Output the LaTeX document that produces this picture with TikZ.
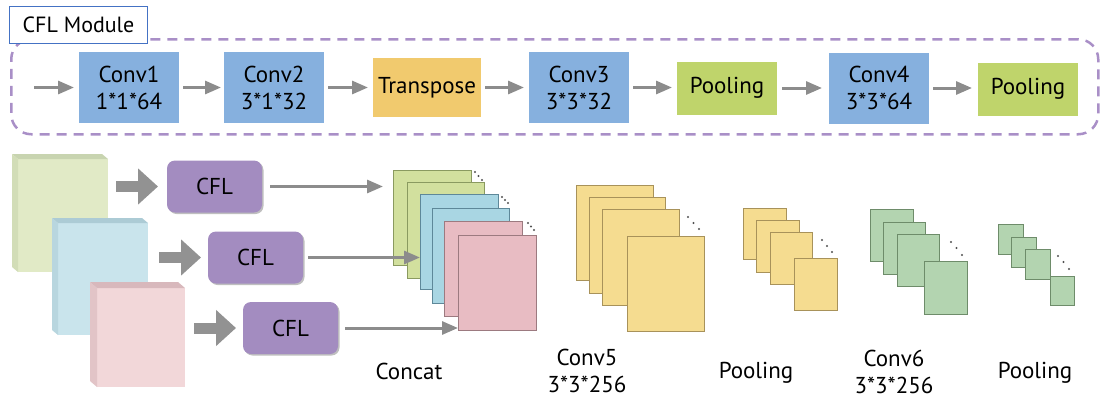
\documentclass[tikz,border=0pt]{standalone}
\usepackage{fontspec}
\setmainfont{PT Sans}
\usetikzlibrary{arrows.meta,shadows,calc}
\definecolor{convblue}{RGB}{134,176,222}
\definecolor{transy}{RGB}{241,202,110}
\definecolor{poolg}{RGB}{191,212,107}
\definecolor{dashp}{RGB}{169,143,199}
\definecolor{lblblue}{RGB}{68,114,196}
\definecolor{cflp}{RGB}{163,140,192}
\definecolor{arrg}{RGB}{140,140,140}
\definecolor{bigg}{RGB}{146,146,146}
\definecolor{gfront}{RGB}{225,234,198}
\definecolor{gtop}{RGB}{200,212,176}
\definecolor{gside}{RGB}{210,221,183}
\definecolor{bfront}{RGB}{201,228,236}
\definecolor{btop}{RGB}{172,203,213}
\definecolor{bside}{RGB}{184,214,223}
\definecolor{pfront}{RGB}{242,215,217}
\definecolor{ptop}{RGB}{216,184,188}
\definecolor{pside}{RGB}{226,196,199}
\definecolor{mgreen}{RGB}{210,224,158}
\definecolor{mgreenb}{RGB}{138,154,96}
\definecolor{mblue}{RGB}{169,214,227}
\definecolor{mblueb}{RGB}{94,136,153}
\definecolor{mpink}{RGB}{232,188,195}
\definecolor{mpinkb}{RGB}{156,122,128}
\definecolor{myel}{RGB}{245,220,144}
\definecolor{myelb}{RGB}{168,146,90}
\definecolor{mg6}{RGB}{179,212,176}
\definecolor{mg6b}{RGB}{110,140,106}
\definecolor{dotg}{RGB}{80,80,80}
\begin{document}
\begin{tikzpicture}[x=1pt,y=-1pt,
  font=\fontsize{23}{27}\selectfont,
  blk/.style={inner sep=0pt, outer sep=0pt, align=center, text=black},
  convbox/.style={blk, fill=convblue, minimum width=100pt, minimum height=71pt},
  arr/.style={draw=arrg, line width=3pt, -{Triangle[length=16pt,width=13pt]}},
  bigarr/.style={draw=bigg, line width=11pt, -{Triangle[length=20pt,width=35pt]}},
  cflbox/.style={blk, fill=cflp, rounded corners=8pt, minimum width=95pt, minimum height=52pt,
     drop shadow={shadow xshift=1.5pt, shadow yshift=-1.5pt, opacity=0.25, fill=black}},
  fmap/.style={inner sep=0pt, outer sep=0pt, anchor=north west, line width=1pt},
  front/.style={inner sep=0pt, outer sep=0pt, anchor=north west},
  lbl/.style={blk}
]
\useasboundingbox (0,0) rectangle (1101,399);

% ---------- CFL module ----------
\node[draw=dashp, dash pattern=on 10pt off 7pt, line width=2.5pt, rounded corners=20pt,
      minimum width=1087pt, minimum height=95pt, inner sep=0pt, anchor=north west] (module) at (10,38) {};
\node[draw=lblblue, line width=1pt, fill=white, anchor=north west, minimum width=138pt,
      minimum height=37pt, inner sep=0pt, font=\fontsize{22}{26}\selectfont] (modlbl) at (9,6) {CFL Module};

\coordinate (in) at (34,87.5);
\node[convbox] (c1) at (129,87.5) {Conv1\\1*1*64};
\node[convbox] (c2) at (274,87.5) {Conv2\\3*1*32};
\node[blk, fill=transy, minimum width=108pt, minimum height=59pt] (tr) at (427,87.5) {Transpose};
\node[convbox] (c3) at (579,87.5) {Conv3\\3*3*32};
\node[blk, fill=poolg, minimum width=100pt, minimum height=53pt] (p1) at (727,88) {Pooling};
\node[convbox] (c4) at (879,88) {Conv4\\3*3*64};
\node[blk, fill=poolg, minimum width=100pt, minimum height=53pt] (p2) at (1028,89) {Pooling};

\draw[arr, shorten >=5pt] (in) -- (c1.west);
\draw[arr, shorten <=4pt, shorten >=3pt] (c1.east) -- (c1.east -| c2.west);
\draw[arr, shorten <=4pt, shorten >=5pt] (c2.east) -- (c2.east -| tr.west);
\draw[arr, shorten <=4pt, shorten >=5pt] (tr.east) -- (tr.east -| c3.west);
\draw[arr, shorten <=4pt, shorten >=5pt] (c3.east) -- (c3.east -| p1.west);
\draw[arr, shorten <=5pt, shorten >=7pt] (p1.east) -- (p1.east -| c4.west);
\draw[arr, shorten <=4pt, shorten >=6pt] (c4.east) -- (c4.east -| p2.west);

% ---------- 3D input blocks ----------
\node[front, fill=gfront, minimum width=90pt, minimum height=113pt] (gin) at (18,159) {};
\fill[gtop] (gin.north west) -- ++(-6,-5) -- ($(gin.north east)+(-6,-5)$) -- (gin.north east) -- cycle;
\fill[gside] (gin.north west) -- ++(-6,-5) -- ($(gin.south west)+(-6,-5)$) -- (gin.south west) -- cycle;

\node[front, fill=bfront, minimum width=90pt, minimum height=112pt] (bin) at (58,223) {};
\fill[btop] (bin.north west) -- ++(-6,-5) -- ($(bin.north east)+(-6,-5)$) -- (bin.north east) -- cycle;
\fill[bside] (bin.north west) -- ++(-6,-5) -- ($(bin.south west)+(-6,-5)$) -- (bin.south west) -- cycle;

\node[front, fill=pfront, minimum width=88pt, minimum height=99pt] (pin) at (97,288) {};
\fill[ptop] (pin.north west) -- ++(-7,-6) -- ($(pin.north east)+(-7,-6)$) -- (pin.north east) -- cycle;
\fill[pside] (pin.north west) -- ++(-7,-6) -- ($(pin.south west)+(-7,-6)$) -- (pin.south west) -- cycle;

% ---------- CFL boxes ----------
\node[cflbox] (cfl1) at (214.5,186.5) {CFL};
\node[cflbox] (cfl2) at (255.5,257.5) {CFL};
\node[cflbox] (cfl3) at (290.5,328) {CFL};

\draw[bigarr, shorten <=8pt, shorten >=9pt] (gin.east |- cfl1.west) -- (cfl1.west);
\draw[bigarr, shorten <=11pt, shorten >=7pt] (bin.east |- cfl2.west) -- (cfl2.west);
\draw[bigarr, shorten <=9pt, shorten >=7pt] (pin.east |- cfl3.west) -- (cfl3.west);

% ---------- Concat ----------
\node[fmap, fill=mgreen, draw=mgreenb, minimum width=78pt, minimum height=95pt] (cg1) at (393,170) {};
\node[fmap, fill=mgreen, draw=mgreenb, minimum width=77pt, minimum height=96pt] (cg2) at (407,182) {};
\draw[arr, shorten <=8pt, shorten >=10pt] (cfl1.east) -- (cfl1.east -| cg1.west);
\node[fmap, fill=mblue, draw=mblueb, minimum width=78pt, minimum height=95pt] (cb1) at (420,194) {};
\node[fmap, fill=mblue, draw=mblueb, minimum width=77pt, minimum height=95pt] (cb2) at (432,208) {};
\node[fmap, fill=mpink, draw=mpinkb, minimum width=78pt, minimum height=95pt] (cp1) at (444,221) {};
\node[fmap, fill=mpink, draw=mpinkb, minimum width=78pt, minimum height=95pt] (cp2) at (458,235) {};
\draw[arr, shorten <=5pt] (cfl2.east) -- (cfl2.east -| cb1.west);
\draw[arr, shorten <=7pt] (cfl3.east) -- (cfl3.east -| cp2.west);
\foreach \p in {(475,172),(478.5,176),(482,180),(502,197),(505,200),(508,203),(528,223),(531,226.5),(534,230)}
  \fill[dotg] \p circle (1.2);

% ---------- Conv5 ----------
\node[fmap, fill=myel, draw=myelb, minimum width=77pt, minimum height=95pt] (y1) at (576,185) {};
\node[fmap, fill=myel, draw=myelb, minimum width=76pt, minimum height=96pt] (y2) at (589,197) {};
\node[fmap, fill=myel, draw=myelb, minimum width=77pt, minimum height=96pt] (y3) at (602,209) {};
\node[fmap, fill=myel, draw=myelb, minimum width=77pt, minimum height=95pt] (y4) at (627,236) {};
\foreach \p in {(688,217),(693.5,223),(699,229)} \fill[dotg] \p circle (1.2);

% ---------- Pooling 1 ----------
\node[fmap, fill=myel, draw=myelb, minimum width=43pt, minimum height=51pt] (q1) at (743,208) {};
\node[fmap, fill=myel, draw=myelb, minimum width=43pt, minimum height=52pt] (q2) at (756,220) {};
\node[fmap, fill=myel, draw=myelb, minimum width=42pt, minimum height=52pt] (q3) at (770,232) {};
\node[fmap, fill=myel, draw=myelb, minimum width=43pt, minimum height=52pt] (q4) at (794,258) {};
\foreach \p in {(822,240),(827,246),(832,252)} \fill[dotg] \p circle (1.2);

% ---------- Conv6 ----------
\node[fmap, fill=mg6, draw=mg6b, minimum width=43pt, minimum height=52pt] (h1) at (870,209) {};
\node[fmap, fill=mg6, draw=mg6b, minimum width=42pt, minimum height=52pt] (h2) at (883,222) {};
\node[fmap, fill=mg6, draw=mg6b, minimum width=42pt, minimum height=52pt] (h3) at (897,234) {};
\node[fmap, fill=mg6, draw=mg6b, minimum width=43pt, minimum height=53pt] (h4) at (924,261) {};
\foreach \p in {(951,242),(956.5,248),(962,255)} \fill[dotg] \p circle (1.2);

% ---------- Pooling 2 ----------
\node[fmap, fill=mg6, draw=mg6b, minimum width=25pt, minimum height=30pt] (r1) at (998,224) {};
\node[fmap, fill=mg6, draw=mg6b, minimum width=25pt, minimum height=30pt] (r2) at (1011,237) {};
\node[fmap, fill=mg6, draw=mg6b, minimum width=25pt, minimum height=30pt] (r3) at (1025,249) {};
\node[fmap, fill=mg6, draw=mg6b, minimum width=24pt, minimum height=29pt] (r4) at (1050,276) {};
\foreach \p in {(1058,256),(1063.5,262),(1069,269)} \fill[dotg] \p circle (1.2);

% ---------- labels ----------
\node[lbl, anchor=base] (lconcat) at (409,379) {Concat};
\node[lbl] (lconv5) at (587,371) {Conv5\\3*3*256};
\node[lbl, anchor=base] (lpool1) at (756,378) {Pooling};
\node[lbl] (lconv6) at (894,372) {Conv6\\3*3*256};
\node[lbl, anchor=base] (lpool2) at (1035,378) {Pooling};
\end{tikzpicture}
\end{document}
